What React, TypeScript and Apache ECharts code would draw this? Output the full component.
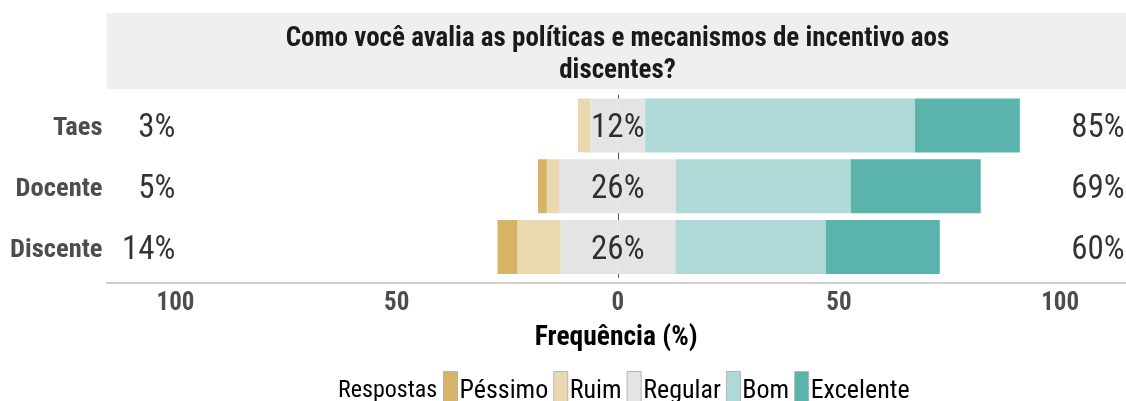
import React, { useEffect, useRef } from "react";
import * as echarts from "echarts";

const categories = ["Discente", "Docente", "Taes"];
const pessimo = [4.5, 2, 0];
const ruim = [9.7, 2.9, 2.8];
const regular = [26, 26.3, 12.4];
const bom = [34, 39.5, 61];
const excelente = [25.8, 29.4, 23.7];
const leftLabels = ["14%", "5%", "3%"];
const midLabels = ["26%", "26%", "12%"];
const rightLabels = ["60%", "69%", "85%"];
const xTicks = [-100, -50, 0, 50, 100];
const legendNames = ["Péssimo", "Ruim", "Regular", "Bom", "Excelente"];

const colors = {
  Péssimo: "#D8B366",
  Ruim: "#EAD8B1",
  Regular: "#E4E4E4",
  Bom: "#AFD9D6",
  Excelente: "#5AB4AC",
};

const FONT = "'Liberation Sans Narrow', 'Arial Narrow', 'Roboto Condensed', sans-serif";

export default function App() {
  const ref = useRef<HTMLDivElement>(null);
  useEffect(() => {
    if (!ref.current) return;
    const chart = echarts.init(ref.current, undefined, { renderer: "svg" });
    const half = regular.map((v) => v / 2);
    const bar = (name: string, data: number[]) => ({
      name,
      type: "bar",
      stack: "total",
      barWidth: 54,
      data,
      itemStyle: { color: (colors as any)[name] },
      emphasis: { disabled: true },
      z: 3,
    });
    const labelSeries = (xv: number, labels: string[], position: string) => ({
      type: "scatter",
      symbolSize: 0,
      silent: true,
      data: categories.map((c) => [xv, c]),
      label: {
        show: true,
        position,
        distance: 0,
        formatter: (p: any) => labels[p.dataIndex],
        fontFamily: FONT,
        fontSize: 33,
        color: "#000",
      },
      z: 6,
    });
    const option: any = {
      animation: false,
      textStyle: { fontFamily: FONT },
      grid: { left: 106.5, right: 0, top: 95, height: 182.5 },
      xAxis: {
        type: "value",
        min: -115.6,
        max: 114.9,
        offset: 5.5,
        axisLine: { show: true, onZero: false, lineStyle: { color: "#BEBEBE", width: 1.5 } },
        axisTick: { show: false },
        splitLine: { show: false },
        axisLabel: {
          customValues: xTicks,
          formatter: (v: number) => String(Math.abs(v)),
          fontFamily: FONT,
          fontSize: 25,
          fontWeight: "bold",
          color: "#4D4D4D",
          margin: 6,
        },
        name: "Frequência (%)",
        nameLocation: "middle",
        nameGap: 38,
        nameTextStyle: { fontFamily: FONT, fontSize: 27.5, fontWeight: "bold", color: "#000" },
      },
      yAxis: {
        type: "category",
        data: categories,
        axisLine: { show: true, lineStyle: { color: "#BEBEBE", width: 1 } },
        axisTick: { show: false },
        axisLabel: {
          fontFamily: FONT,
          fontSize: 26.5,
          fontWeight: "bold",
          color: "#4D4D4D",
          margin: 4,
        },
      },
      legend: {
        data: legendNames,
        left: 438,
        top: 366,
        itemWidth: 14,
        itemHeight: 34,
        itemGap: 5,
        icon: "rect",
        selectedMode: false,
        textStyle: { fontFamily: FONT, fontSize: 26, color: "#000", padding: [0, 0, 0, -3] },
        itemStyle: { borderColor: "#B5B5B5", borderWidth: 1 },
      },
      graphic: [
        {
          type: "rect",
          shape: { x: 106.5, y: 13, width: 1030, height: 76 },
          style: { fill: "#EFEFEF" },
          z: -1,
        },
        {
          type: "text",
          x: 617.5,
          y: 53,
          style: {
            text: "Como você avalia as políticas e mecanismos de incentivo aos\ndiscentes?",
            align: "center",
            verticalAlign: "middle",
            font: `bold 27px ${FONT}`,
            lineHeight: 32,
            fill: "#1A1A1A",
          },
        },
        {
          type: "text",
          x: 338,
          y: 389,
          style: {
            text: "Respostas",
            align: "left",
            verticalAlign: "middle",
            font: `24px ${FONT}`,
            fill: "#000",
          },
        },
      ],
      series: [
        {
          type: "line",
          data: [],
          silent: true,
          z: 1,
          markLine: {
            silent: true,
            z: 1,
            symbol: "none",
            label: { show: false },
            lineStyle: { color: "#555", width: 1, type: "solid" },
            data: [{ xAxis: 0 }],
          },
        },
        bar("Regular", half.map((v) => -v)),
        bar("Ruim", ruim.map((v) => -v)),
        bar("Péssimo", pessimo.map((v) => -v)),
        bar("Regular", half),
        bar("Bom", bom),
        bar("Excelente", excelente),
        labelSeries(-100, leftLabels, "left"),
        labelSeries(0, midLabels, "inside"),
        labelSeries(102.5, rightLabels, "right"),
      ],
    };
    chart.setOption(option);
    return () => chart.dispose();
  }, []);
  return (
    <div
      ref={ref}
      style={{ width: 1126, height: 401, position: "fixed", left: 0, top: 0 }}
    />
  );
}
